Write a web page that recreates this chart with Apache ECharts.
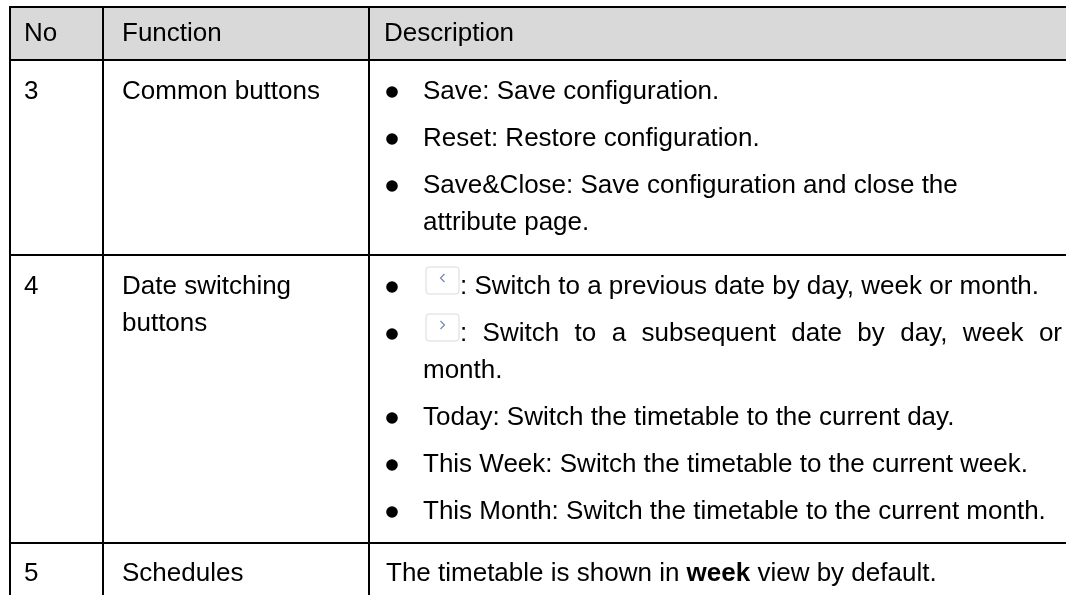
<!DOCTYPE html>
<html><head><meta charset="utf-8">
<script src="https://cdn.jsdelivr.net/npm/echarts@6/dist/echarts.min.js"></script>
<style>html,body{margin:0;padding:0;background:#fff}#c{width:1066px;height:595px}</style>
</head><body><div id="c"></div>
<script>
// ---- table content ----
const headers = ['No', 'Function', 'Description'];
const rowNumbers = ['3', '4', '5'];
const rowFunctions = [['Common buttons'], ['Date switching', 'buttons'], ['Schedules']];
const row3Items = [
  ['Save: Save configuration.'],
  ['Reset: Restore configuration.'],
  ['Save&Close: Save configuration and close the', 'attribute page.']
];
const row4Icons = ['‹', '›', null, null, null];
const row4Items = [
  [': Switch to a previous date by day, week or month.'],
  [': Switch to a subsequent date by day, week or', 'month.'],
  ['Today: Switch the timetable to the current day.'],
  ['This Week: Switch the timetable to the current week.'],
  ['This Month: Switch the timetable to the current month.']
];
const row4Justified = [false, true, false, false, false];
const row5Parts = ['The timetable is shown in ', 'week', ' view by default.'];

// ---- layout ----
const FONT_FAMILY = '"Liberation Sans", Arial, sans-serif';
const FS = 26;
const colX = [10, 103, 369];
const rowY = [7, 60, 255, 543, 640];
const W = 1066;
const textRight = 1062;
const lineW = 2;

const ctx = document.createElement('canvas').getContext('2d');
ctx.font = FS + 'px ' + FONT_FAMILY;
const measure = s => ctx.measureText(s).width;

const els = [];
function txt(x, y, s, extra) {
  els.push({type: 'text', silent: true, style: Object.assign({
    x: x, y: y, text: s, fill: '#000', fontSize: FS, fontFamily: FONT_FAMILY,
    align: 'left', verticalAlign: 'middle'
  }, extra || {})});
}
function justified(x, y, s, right) {
  const words = s.split(/\s+/).filter(w => w.length);
  const total = words.reduce((a, w) => a + measure(w), 0);
  const gap = (right - x - total) / (words.length - 1);
  let cx = x;
  words.forEach(w => { txt(cx, y, w); cx += measure(w) + gap; });
}

// header background
els.push({type: 'rect', silent: true, shape: {x: colX[0], y: rowY[0], width: W - colX[0], height: rowY[1] - rowY[0]}, style: {fill: '#d9d9d9'}});

// header text
const headerY = 34;
txt(24, headerY, headers[0]);
txt(122, headerY, headers[1]);
txt(384, headerY, headers[2]);

// first column + function column
const firstLineY = [92, 287, 574];
const wrapStep = 37;
rowNumbers.forEach((n, i) => {
  txt(24, firstLineY[i], n);
  rowFunctions[i].forEach((l, j) => txt(122, firstLineY[i] + j * wrapStep, l));
});

const bulletX = 392, itemX = 423, paraStep = 47;
function bullet(y) {
  els.push({type: 'circle', silent: true, shape: {cx: bulletX, cy: y, r: 5.8}, style: {fill: '#000'}});
}

// row 3 bullets
let y = firstLineY[0];
row3Items.forEach(lines => {
  bullet(y);
  lines.forEach((l, j) => txt(itemX, y + j * wrapStep, l));
  y += paraStep + (lines.length - 1) * wrapStep;
});

// row 4 bullets
y = firstLineY[1];
row4Items.forEach((lines, i) => {
  bullet(y);
  let startX = itemX;
  if (row4Icons[i]) {
    els.push({type: 'rect', silent: true, shape: {x: 426, y: y - 20, width: 33, height: 27, r: 3},
      style: {fill: '#fff', stroke: '#d6dae2', lineWidth: 1}});
    const cx = 442.5, cy = y - 9;
    const pts = row4Icons[i] === '‹' ? [[cx + 2, cy - 4], [cx - 2, cy], [cx + 2, cy + 4]]
                                     : [[cx - 2, cy - 4], [cx + 2, cy], [cx - 2, cy + 4]];
    els.push({type: 'polyline', silent: true, shape: {points: pts}, style: {stroke: '#7089a8', lineWidth: 1.2, fill: null}});
    startX = 460;
  }
  lines.forEach((l, j) => {
    const lx = j === 0 ? startX : itemX;
    if (row4Justified[i] && j < lines.length - 1) justified(lx, y + j * wrapStep, l, textRight);
    else txt(lx, y + j * wrapStep, l);
  });
  y += paraStep + (lines.length - 1) * wrapStep;
});

// row 5 with bold word
els.push({type: 'text', silent: true, style: {
  x: 386, y: firstLineY[2], fill: '#000', fontSize: FS, fontFamily: FONT_FAMILY,
  align: 'left', verticalAlign: 'middle',
  text: row5Parts[0] + '{b|' + row5Parts[1] + '}' + row5Parts[2],
  rich: {b: {fontWeight: 'bold', fontSize: FS, fontFamily: FONT_FAMILY, fill: '#000'}}
}});

// grid lines
for (let k = 0; k < 4; k++) {
  els.push({type: 'line', silent: true, shape: {x1: colX[0] - 1, y1: rowY[k], x2: W, y2: rowY[k]}, style: {stroke: '#000', lineWidth: lineW}});
}
colX.forEach(x => {
  els.push({type: 'line', silent: true, shape: {x1: x, y1: rowY[0], x2: x, y2: 595}, style: {stroke: '#000', lineWidth: lineW}});
});

const chart = echarts.init(document.getElementById('c'), null, {renderer: 'canvas'});
chart.setOption({animation: false, graphic: {elements: els}});
</script>
</body></html>
